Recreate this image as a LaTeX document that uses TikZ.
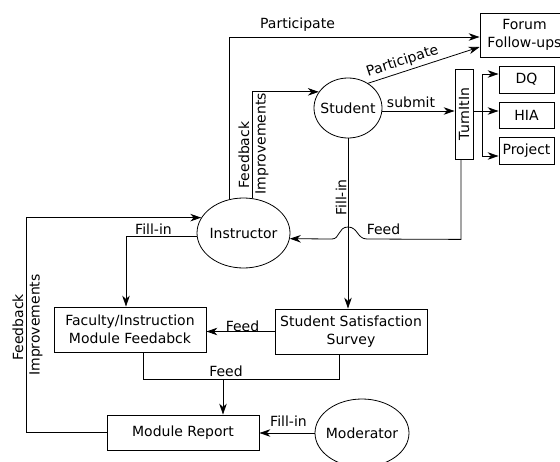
\documentclass[tikz,border=0pt]{standalone}
\usepackage{fontspec}
\setmainfont{DejaVu Sans}
\usetikzlibrary{shapes.geometric,arrows.meta}
\begin{document}
\begin{tikzpicture}[x=1pt,y=-1pt,
  font=\fontsize{14}{18}\selectfont,
  line width=0.8pt,
  box/.style={draw, rectangle, inner sep=0pt, align=center},
  oval/.style={draw, ellipse, inner sep=0pt},
  arr/.style={-{Stealth[length=11pt,width=7.5pt,inset=3.5pt]}},
  lbl/.style={inner sep=0pt}]
\useasboundingbox (0,0) rectangle (560,461);

% nodes
\node[box, minimum width=89pt, minimum height=44pt] (forum) at (524.5,35) {Forum\\Follow-ups};
\node[oval, minimum width=68pt, minimum height=60pt, label={[lbl]center:Student}] (student) at (348,108) {};
\node[oval, minimum width=93pt, minimum height=70pt, label={[lbl]center:Instructor}] (instructor) at (243.5,233) {};
\node[oval, minimum width=94pt, minimum height=68pt, label={[lbl]center:Moderator}] (moderator) at (362,433) {};
\node[box, minimum width=18pt, minimum height=90pt] (turnitin) at (464,114) {\rotatebox{90}{TurnItIn}};
\node[box, minimum width=55pt, minimum height=27pt] (dq) at (526.5,79.5) {DQ};
\node[box, minimum width=55pt, minimum height=26pt] (hia) at (526.5,115) {HIA};
\node[box, minimum width=55pt, minimum height=27pt] (project) at (526.5,150.5) {Project};
\node[box, minimum width=152pt, minimum height=45pt] (survey) at (351,331.5) {Student Satisfaction\\Survey};
\node[box, minimum width=152pt, minimum height=45pt] (faculty) at (130,329.5) {Faculty/Instruction\\Module Feedabck};
\node[box, minimum width=152pt, minimum height=35pt] (report) at (183,432.5) {Module Report};

% connectors
\draw[arr] (instructor.112) |- ([yshift=-2pt]forum.west);
\draw[arr] (student.51) -- ([yshift=-12pt]forum.west);
\draw[arr] (student.-5) -- (student.-5 -| turnitin.west);
\coordinate (j) at (482,111);
\draw (j -| turnitin.east) -- (j);
\draw[arr] (j) |- ([yshift=5.5pt]dq.west);
\draw[arr] (j) -- (j -| hia.west);
\draw[arr] (j) |- ([yshift=-5.5pt]project.west);
\draw[arr] (instructor.76) |- (student.151);
\draw[arr] (student.south) -- (student.south |- survey.north);
\draw[arr] ([xshift=-3pt]turnitin.south) -- ++(0,80) -- (367,239)
  .. controls (357,239) and (358,227) .. (348,227)
  .. controls (338,227) and (340,239) .. (332,239) -- (instructor.-7);
\draw[arr] (instructor.184) -| ([xshift=-4pt]faculty.north);
\draw[arr] (survey.west) -- (survey.west -| faculty.east);
\draw ([xshift=13pt]faculty.south) -- ++(0,27) -| ([xshift=-12pt]survey.south);
\coordinate (fm) at (223,379);
\draw[arr] (fm) -- (fm |- report.north);
\draw[arr] (report.west) -- ++(-80,0) |- (instructor.160);
\draw[arr] (moderator.west) -- (moderator.west -| report.east);

% labels
\node[lbl] (l1) at (297.5,25) {Participate};
\node[lbl, rotate=18] (l2) at (402.5,61.5) {Participate};
\node[lbl] (l3) at (411,102) {submit};
\node[lbl, rotate=90] (l4) at (244,155) {Feedback};
\node[lbl, rotate=90] (l5) at (262,143.5) {Improvements};
\node[lbl, rotate=90] (l6) at (341,197.5) {Fill-in};
\node[lbl] (l7) at (383.5,229) {Feed};
\node[lbl] (l8) at (153.5,229) {Fill-in};
\node[lbl] (l9) at (242.5,326) {Feed};
\node[lbl] (l10) at (226,371) {Feed};
\node[lbl] (l11) at (288.5,421) {Fill-in};
\node[lbl, rotate=90] (l12) at (18,327.5) {Feedback};
\node[lbl, rotate=90] (l13) at (36,325) {Improvements};
\end{tikzpicture}
\end{document}
